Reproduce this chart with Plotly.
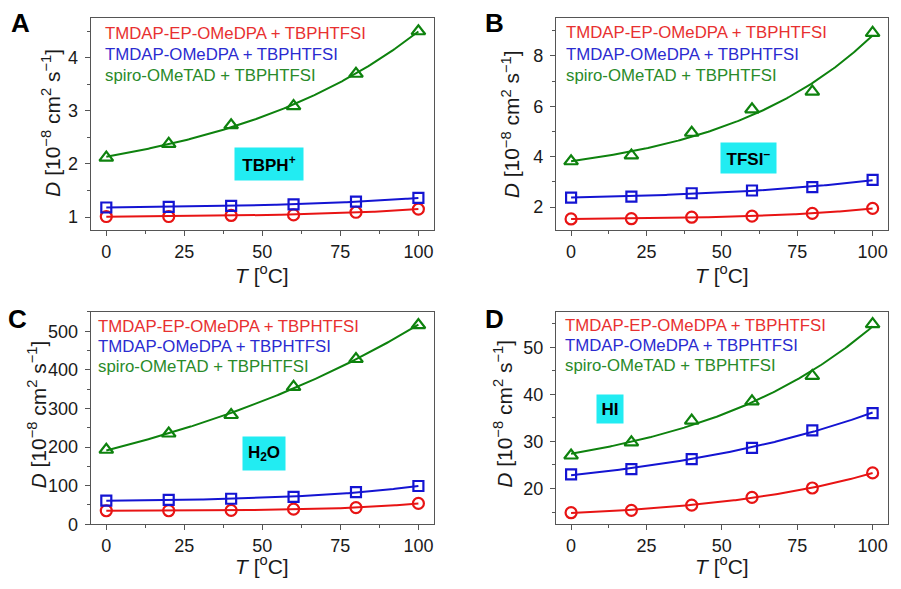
import numpy as np
import plotly.graph_objects as go

# Temperature points (degC)
T = [0, 20, 40, 60, 80, 100]

# Diffusion coefficients D [1e-8 cm^2 s^-1] for each species
series_names = ["TMDAP-EP-OMeDPA + TBPHTFSI", "TMDAP-OMeDPA + TBPHTFSI", "spiro-OMeTAD + TBPHTFSI"]

tbph_ep = [1.01, 1.01, 1.03, 1.04, 1.09, 1.15]
tbph_ome = [1.18, 1.19, 1.21, 1.24, 1.29, 1.36]
tbph_spiro = [2.12, 2.38, 2.73, 3.09, 3.70, 4.50]

tfsi_ep = [1.53, 1.54, 1.60, 1.64, 1.75, 1.95]
tfsi_ome = [2.38, 2.42, 2.55, 2.66, 2.79, 3.08]
tfsi_spiro = [3.82, 4.05, 4.95, 5.88, 6.58, 8.91]

h2o_ep = [35, 35, 36, 39, 43, 54]
h2o_ome = [61, 63, 66, 71, 83, 99]
h2o_spiro = [193, 235, 283, 356, 428, 516]

hi_ep = [14.85, 15.35, 16.45, 18.1, 20.1, 23.3]
hi_ome = [23.0, 24.1, 26.25, 28.6, 32.35, 36.0]
hi_spiro = [27.0, 29.8, 34.4, 38.5, 43.9, 54.9]

W, H = 901, 589
FONT = "Arial, Liberation Sans, sans-serif"
RED, BLUE, GREEN = "#e81414", "#1414d2", "#0e820e"
TEXT_RED, TEXT_BLUE, TEXT_GREEN = "#e83030", "#2b2bd0", "#2a8a2a"
FRAME = "#555555"


def px(x):
    return x / W


def py(y):
    return 1 - y / H


def exp_fit(x, y):
    """Least-squares fit of y = y0 + A*exp(x/t); returns a smooth curve."""
    x = np.asarray(x, float)
    y = np.asarray(y, float)
    best = None
    for t in np.linspace(20, 1500, 3000):
        M = np.column_stack([np.ones_like(x), np.exp(x / t)])
        coef, *_ = np.linalg.lstsq(M, y, rcond=None)
        r = float(np.sum((M @ coef - y) ** 2))
        if best is None or r < best[0]:
            best = (r, t, coef)
    _, t, coef = best
    xs = np.linspace(0, 100, 201)
    return xs, coef[0] + coef[1] * np.exp(xs / t)


panels = [
    dict(ax="", data=(tbph_ep, tbph_ome, tbph_spiro), yr=[0.75, 4.75], dt=1, mn=0.5, t0=0,
         xd=(90.7, 434), yd=(18.3, 234.3), letter="A", lpos=(20, 23),
         box=("<b>TBPH<sup>+</sup></b>", 269, 167, 68, 32),
         leg=(103, [33.7, 55.5, 77.2]), ytl=(51, 125), xtl=(262, 279)),
    dict(ax="2", data=(tfsi_ep, tfsi_ome, tfsi_spiro), yr=[1.08, 9.5], dt=2, mn=1, t0=0,
         xd=(556, 887.7), yd=(18.3, 234.3), letter="B", lpos=(494.5, 23),
         box=("<b>TFSI<sup>–</sup></b>", 748.5, 161, 55, 30),
         leg=(564.3, [33.3, 55.0, 76.7]), ytl=(511, 126.5), xtl=(722, 279)),
    dict(ax="3", data=(h2o_ep, h2o_ome, h2o_spiro), yr=[0, 550], dt=100, mn=50, t0=0,
         xd=(90.7, 434), yd=(317.3, 533.3), letter="C", lpos=(17.5, 325),
         box=("<b>H<sub>2</sub>O</b>", 263.5, 461.3, 42, 33),
         leg=(95.7, [331.7, 352.0, 372.5]), ytl=(37, 421.7), xtl=(262, 575)),
    dict(ax="4", data=(hi_ep, hi_ome, hi_spiro), yr=[12.4, 57.5], dt=10, mn=5, t0=0,
         xd=(556, 887.7), yd=(317.3, 533.3), letter="D", lpos=(494.5, 325),
         box=("<b>HI</b>", 609.7, 416, 26, 28),
         leg=(563.3, [331.0, 351.7, 372.3]), ytl=(503, 421), xtl=(722, 575)),
]

styles = [
    (RED, "circle-open", 11),
    (BLUE, "square-open", 10),
    (GREEN, "triangle-up-open", 12),
]
text_colors = [TEXT_RED, TEXT_BLUE, TEXT_GREEN]

fig = go.Figure()
annotations = []
layout = dict(
    width=W, height=H, autosize=False,
    margin=dict(l=0, r=0, t=0, b=0),
    paper_bgcolor="white", plot_bgcolor="white",
    showlegend=False,
    font=dict(family=FONT, color="#1a1a1a"),
)

for p in panels:
    xa, ya = "x" + p["ax"], "y" + p["ax"]
    for vals, (col, sym, size) in zip(p["data"], styles):
        xs, ys = exp_fit(T, vals)
        fig.add_trace(go.Scatter(x=xs, y=ys, mode="lines", xaxis=xa, yaxis=ya,
                                 line=dict(color=col, width=2), hoverinfo="skip"))
        fig.add_trace(go.Scatter(x=T, y=vals, mode="markers", xaxis=xa, yaxis=ya,
                                 marker=dict(symbol=sym, size=size, color=col,
                                             line=dict(width=2.2, color=col))))

    axis_common = dict(showline=True, linecolor=FRAME, linewidth=1.3, mirror=True,
                       ticks="outside", ticklen=5, tickwidth=1.3, tickcolor=FRAME,
                       showgrid=False, zeroline=False,
                       tickfont=dict(family=FONT, size=18, color="#1a1a1a"))
    layout["xaxis" + p["ax"]] = dict(
        axis_common, domain=[px(p["xd"][0]), px(p["xd"][1])], range=[-5, 105],
        tick0=0, dtick=25, anchor=ya,
        minor=dict(ticks="outside", ticklen=3, tickwidth=1.2, tickcolor=FRAME, dtick=12.5, tick0=0),
    )
    layout["yaxis" + p["ax"]] = dict(
        axis_common, domain=[py(p["yd"][1]), py(p["yd"][0])], range=p["yr"],
        tick0=p["t0"], dtick=p["dt"], anchor=xa, ticklabelstandoff=3,
        minor=dict(ticks="outside", ticklen=3, tickwidth=1.2, tickcolor=FRAME, dtick=p["mn"], tick0=p["t0"]),
    )

    # series captions
    lx, lys = p["leg"]
    for name, col, ly in zip(series_names, text_colors, lys):
        annotations.append(dict(text=name, x=px(lx), y=py(ly), xref="paper", yref="paper",
                                xanchor="left", yanchor="middle", showarrow=False,
                                font=dict(family=FONT, size=16.8, color=col)))

    # species tag
    txt, bx, by, bw, bh = p["box"]
    annotations.append(dict(text=txt, x=px(bx), y=py(by), xref="paper", yref="paper",
                            xanchor="center", yanchor="middle", showarrow=False,
                            bgcolor="#22ecf2", borderpad=0, width=bw, height=bh,
                            font=dict(family=FONT, size=17, color="black")))

    # panel letter
    annotations.append(dict(text="<b>" + p["letter"] + "</b>", x=px(p["lpos"][0]), y=py(p["lpos"][1]),
                            xref="paper", yref="paper", xanchor="center", yanchor="middle",
                            showarrow=False, font=dict(family=FONT, size=26, color="black")))

    # axis titles
    annotations.append(dict(text="<i>D</i> [10<sup>−8</sup> cm<sup>2</sup> s<sup>−1</sup>]",
                            x=px(p["ytl"][0]), y=py(p["ytl"][1]), xref="paper", yref="paper",
                            xanchor="center", yanchor="middle", textangle=-90, showarrow=False,
                            font=dict(family=FONT, size=21, color="#1a1a1a")))
    annotations.append(dict(text="<i>T</i> [<sup>o</sup>C]",
                            x=px(p["xtl"][0]), y=py(p["xtl"][1]), xref="paper", yref="paper",
                            xanchor="center", yanchor="middle", showarrow=False,
                            font=dict(family=FONT, size=21, color="#1a1a1a")))

layout["annotations"] = annotations
fig.update_layout(**layout)
fig.write_html("out.html")
